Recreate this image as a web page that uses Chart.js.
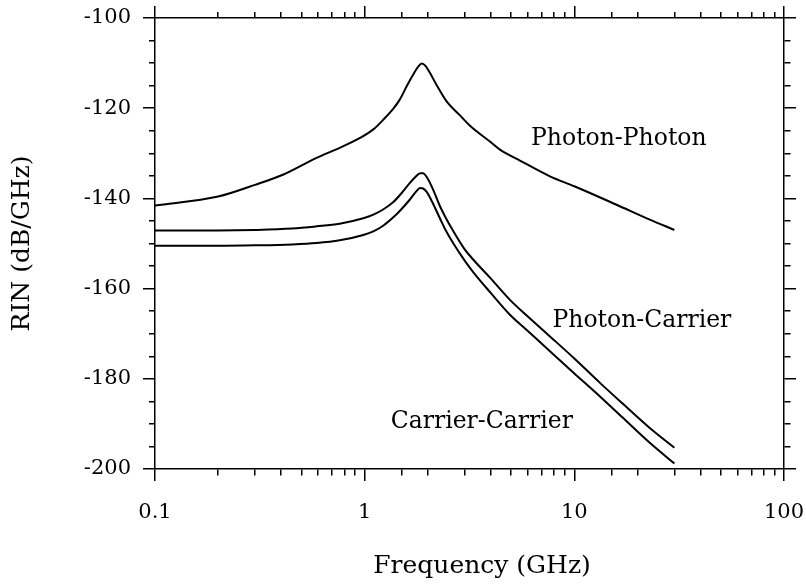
<!DOCTYPE html>
<html>
<head>
<meta charset="utf-8">
<script src="https://cdn.jsdelivr.net/npm/chart.js@4/dist/chart.umd.min.js"></script>
<style>
  html, body { margin: 0; padding: 0; background: #ffffff; }
  #wrap { width: 806px; height: 584px; }
</style>
</head>
<body>
<div id="wrap"><canvas id="c" width="806" height="584"></canvas></div>
<script>
// ---- Data ----
const ppFreq = [0.1, 0.2, 0.3, 0.41, 0.59, 0.76, 0.95, 1.1, 1.23, 1.37, 1.47, 1.6, 1.71, 1.8, 1.87, 1.95, 2.05, 2.2, 2.46, 2.85, 3.2, 3.96, 4.42, 5.5, 7.65, 10, 15.9, 22.9, 30];
const ppRIN  = [-141.6, -139.6, -137.0, -134.7, -131.0, -128.8, -126.6, -124.7, -122.5, -120.1, -118.1, -114.8, -112.4, -110.8, -110.1, -110.6, -112.2, -114.8, -118.5, -121.6, -124.0, -127.4, -129.2, -131.6, -135.1, -137.3, -141.4, -144.7, -147.0];

const pcFreq = [0.1, 0.2, 0.3, 0.45, 0.59, 0.76, 0.985, 1.1, 1.23, 1.37, 1.47, 1.64, 1.75, 1.84, 1.9, 1.98, 2.1, 2.29, 2.45, 2.65, 3.0, 3.3, 4.0, 4.93, 6.0, 7.65, 10, 13.25, 17, 22.9, 30];
const pcRIN  = [-147.1, -147.1, -147.0, -146.7, -146.2, -145.6, -144.4, -143.6, -142.4, -140.8, -139.3, -136.6, -135.2, -134.4, -134.4, -135.3, -137.6, -141.8, -144.5, -147.3, -151.3, -153.6, -157.8, -162.5, -166.2, -170.6, -175.5, -180.9, -185.5, -190.9, -195.3];

const ccFreq = [0.1, 0.2, 0.3, 0.45, 0.59, 0.76, 0.985, 1.1, 1.23, 1.37, 1.47, 1.64, 1.75, 1.84, 1.9, 1.98, 2.1, 2.29, 2.45, 2.65, 3.0, 3.3, 4.0, 4.93, 6.0, 7.65, 10, 13.25, 17, 22.9, 30];
const ccRIN  = [-150.5, -150.5, -150.4, -150.2, -149.9, -149.3, -148.1, -147.3, -146.0, -144.2, -142.8, -140.3, -138.6, -137.7, -137.8, -138.6, -140.8, -144.5, -147.3, -150.0, -153.8, -156.4, -161.0, -165.8, -169.4, -173.9, -178.8, -183.9, -188.6, -194.2, -198.8];

const seriesNames = ['Photon-Photon', 'Photon-Carrier', 'Carrier-Carrier'];
const labelFreqs  = [16.3, 21.0, 3.62];
const labelRIN    = [-128.1, -168.5, -190.8];

const xMajorLabels = [0.1, 1, 10, 100];
const yMajorStep = 20;
const yMinorStep = 5;

// ---- helpers ----
const toPts = (xs, ys) => xs.map((x, i) => ({ x: x, y: ys[i] }));
const isDecade = v => Math.abs(Math.log10(v) - Math.round(Math.log10(v))) < 1e-6;
const isYMajor = v => Math.abs(v % yMajorStep) < 1e-6;

// minor tick = short dash adjacent to axis line
const dashInner = [0, 6, 7, 100];  // left/top: line drawn from outer end toward axis
const dashOuter = [6, 100];        // bottom/right: line drawn from axis outward

const FONT = 'DejaVu Serif';
Chart.defaults.font.family = FONT;
Chart.defaults.color = '#000';

const gridBase = (pos, isMajor) => ({
  display: true,
  drawOnChartArea: false,
  drawTicks: true,
  tickLength: 12,
  lineWidth: 1.5,
  tickColor: '#000',
  tickBorderDash: ctx => (ctx.tick && isMajor(ctx.tick.value)) ? [] : (pos === 'left' || pos === 'top' ? dashInner : dashOuter)
});

const noPad = s => { s.paddingLeft = 0; s.paddingRight = 0; s.paddingTop = 0; s.paddingBottom = 0; };

const labelPlugin = {
  id: 'curveLabels',
  afterDatasetsDraw(chart) {
    const ctx = chart.ctx, xs = chart.scales.x, ys = chart.scales.y;
    ctx.save();
    ctx.font = '23.5px "' + FONT + '"';
    ctx.fillStyle = '#000';
    ctx.textAlign = 'center';
    ctx.textBaseline = 'alphabetic';
    seriesNames.forEach((t, i) => {
      ctx.fillText(t, xs.getPixelForValue(labelFreqs[i]), ys.getPixelForValue(labelRIN[i]));
    });
    ctx.restore();
  }
};

const lineDs = (name, xs, ys) => ({
  label: name,
  data: toPts(xs, ys),
  borderColor: '#000',
  borderWidth: 2,
  pointRadius: 0,
  fill: false,
  cubicInterpolationMode: 'monotone'
});

new Chart(document.getElementById('c'), {
  type: 'line',
  data: {
    datasets: [
      lineDs(seriesNames[0], ppFreq, ppRIN),
      lineDs(seriesNames[1], pcFreq, pcRIN),
      lineDs(seriesNames[2], ccFreq, ccRIN)
    ]
  },
  options: {
    responsive: false,
    animation: false,
    layout: { padding: 0 },
    plugins: { legend: { display: false }, tooltip: { enabled: false } },
    scales: {
      x: {
        type: 'logarithmic',
        position: 'bottom',
        min: 0.1, max: 100,
        border: { display: true, color: '#000', width: 1.5 },
        grid: gridBase('bottom', isDecade),
        ticks: {
          autoSkip: false, maxRotation: 0, padding: 19,
          font: { size: 21 },
          callback: v => {
            const m = xMajorLabels.find(d => Math.abs(d - v) < 1e-9 * Math.max(1, d));
            return m !== undefined ? String(m) : '';
          }
        },
        title: { display: true, text: '\u2003Frequency (GHz)', font: { size: 25 }, padding: { top: 0, bottom: 3 } },
        afterFit: s => { s.height = 115; noPad(s); }
      },
      xTop: {
        type: 'logarithmic',
        position: 'top',
        min: 0.1, max: 100,
        border: { display: true, color: '#000', width: 1.5 },
        grid: gridBase('top', isDecade),
        ticks: { display: false, autoSkip: false },
        afterFit: s => { s.height = 18; noPad(s); }
      },
      y: {
        type: 'linear',
        position: 'left',
        min: -200, max: -100,
        border: { display: true, color: '#000', width: 1.5 },
        grid: gridBase('left', isYMajor),
        ticks: {
          stepSize: yMinorStep, autoSkip: false, padding: 12,
          font: { size: 21 },
          callback: v => isYMajor(v) ? String(v) : ''
        },
        title: { display: true, text: 'RIN (dB/GHz)', font: { size: 25 }, padding: { top: 7, bottom: 0 } },
        afterFit: s => { s.width = 155; noPad(s); }
      },
      yRight: {
        type: 'linear',
        position: 'right',
        min: -200, max: -100,
        border: { display: true, color: '#000', width: 1.5 },
        grid: gridBase('right', isYMajor),
        ticks: { display: false, stepSize: yMinorStep, autoSkip: false },
        afterFit: s => { s.width = 22; noPad(s); }
      }
    }
  },
  plugins: [labelPlugin]
});
</script>
</body>
</html>
